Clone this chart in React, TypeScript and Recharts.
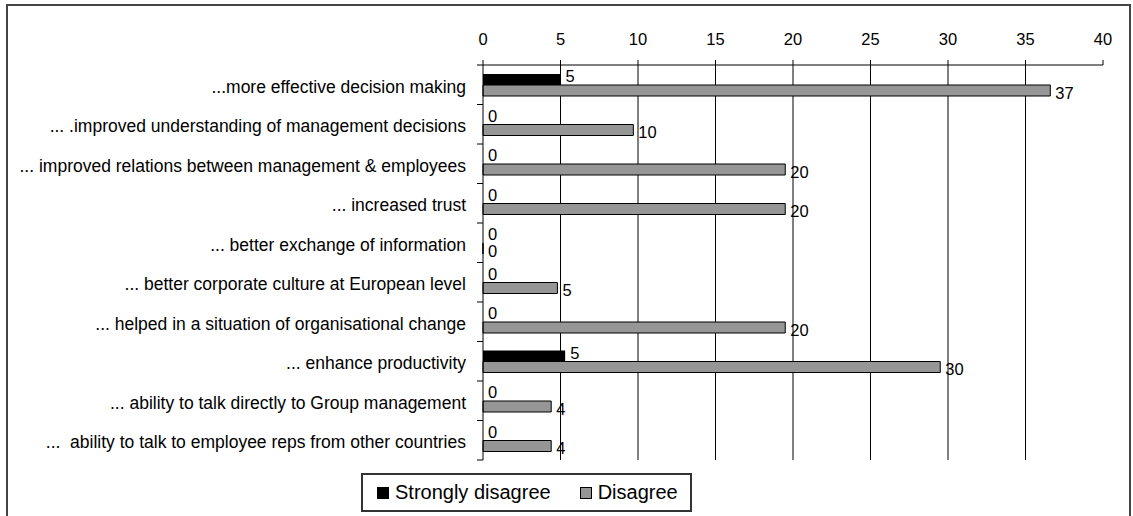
import React from 'react';
import { BarChart, Bar, XAxis, YAxis, CartesianGrid, LabelList, Legend } from 'recharts';

const categories = [
  '...more effective decision making',
  '... .improved understanding of management decisions',
  '... improved relations between management & employees',
  '... increased trust',
  '... better exchange of information',
  '... better corporate culture at European level',
  '... helped in a situation of organisational change',
  '... enhance productivity',
  '... ability to talk directly to Group management',
  '...  ability to talk to employee reps from other countries',
];

const stronglyDisagree = [5, 0, 0, 0, 0, 0, 0, 5.3, 0, 0];
const disagree = [36.6, 9.7, 19.5, 19.5, 0, 4.8, 19.5, 29.5, 4.4, 4.4];

const xTicks = [0, 5, 10, 15, 20, 25, 30, 35, 40];
const gridValues = [5, 10, 15, 20, 25, 30, 35];
const seriesNames = ['Strongly disagree', 'Disagree'];
const seriesColors = ['#000000', '#969696'];

const data = categories.map((name, i) => ({
  name,
  strongly: stronglyDisagree[i],
  disagree: disagree[i],
}));

const CHART_W = 1133;
const CHART_H = 516;
const MARGIN = { top: 25, right: 30, bottom: 56, left: 0 };
const X_AXIS_H = 40;
const Y_AXIS_W = 483;
const Y_TICK_SIZE = 6;
const Y_TICK_MARGIN = 11;
const PLOT_H = CHART_H - MARGIN.top - X_AXIS_H - MARGIN.bottom;
const BAND = PLOT_H / categories.length;
const FONT = "'Liberation Sans', Arial, sans-serif";
const Y_FONT = 17.5;

const YTick = (props: any) => {
  const { x, y, payload, index } = props;
  const axisX = x + Y_TICK_MARGIN + Y_TICK_SIZE;
  const half = BAND / 2;
  return (
    <g>
      <line x1={axisX - Y_TICK_SIZE} x2={axisX} y1={y - half} y2={y - half} stroke="#000" strokeWidth={1} />
      {index === categories.length - 1 && (
        <line x1={axisX - Y_TICK_SIZE} x2={axisX} y1={y + half} y2={y + half} stroke="#000" strokeWidth={1} />
      )}
      <text
        x={x}
        y={y}
        dy={Y_FONT * 0.36 + 1.5}
        textAnchor="end"
        fontSize={Y_FONT}
        fill="#000"
        style={{ whiteSpace: 'pre', fontFamily: FONT }}
      >
        {payload.value}
      </text>
    </g>
  );
};

const fmt = (v: any) => String(Math.round(Number(v)));

const LegendBox = (props: any) => {
  const payload = props.payload || [];
  const items = seriesNames.map((name, i) => {
    const found = payload.find((p: any) => p.value === name);
    return { value: name, color: found ? found.color : seriesColors[i] };
  });
  return (
    <div
      style={{
        display: 'flex',
        alignItems: 'center',
        border: '2px solid #333',
        height: 35,
        padding: '0 12px 0 14px',
        background: '#fff',
        fontFamily: FONT,
        fontSize: 20,
        color: '#000',
        whiteSpace: 'nowrap',
      }}
    >
      {items.map((it: any, i: number) => (
        <div key={i} style={{ display: 'flex', alignItems: 'center', marginLeft: i === 0 ? 0 : 29 }}>
          <span
            style={{
              display: 'inline-block',
              width: i === 0 ? 12 : 10,
              height: i === 0 ? 12 : 10,
              background: it.color,
              border: i === 0 ? 'none' : '1px solid #000',
              marginRight: 6,
            }}
          />
          <span>{it.value}</span>
        </div>
      ))}
    </div>
  );
};

export default function App() {
  return (
    <div
      style={{
        position: 'fixed',
        left: 0,
        top: 0,
        width: CHART_W,
        height: CHART_H,
        overflow: 'hidden',
        background: '#fff',
        fontFamily: FONT,
      }}
    >
      <div
        style={{
          position: 'absolute',
          left: 6,
          top: 4,
          width: 1121,
          height: 540,
          border: '2px solid #444',
        }}
      />
      <div style={{ position: 'absolute', left: 0, top: 0 }}>
        <BarChart
          width={CHART_W}
          height={CHART_H}
          data={data}
          layout="vertical"
          margin={MARGIN}
          barGap={0}
        >
          <CartesianGrid
            xAxisId="top"
            yAxisId="left"
            horizontal={false}
            vertical={true}
            verticalValues={gridValues}
            stroke="#000"
            strokeWidth={1}
          />
          <XAxis
            xAxisId="top"
            type="number"
            orientation="top"
            domain={[0, 40]}
            ticks={xTicks}
            interval={0}
            height={X_AXIS_H}
            tickSize={5}
            tickMargin={15}
            axisLine={{ stroke: '#000', strokeWidth: 1 }}
            tickLine={{ stroke: '#000', strokeWidth: 1 }}
            tick={{ fontSize: 16.5, fill: '#000', fontFamily: FONT }}
          />
          <XAxis
            xAxisId="bottom"
            type="number"
            orientation="bottom"
            domain={[0, 40]}
            height={0}
            tick={false}
            tickLine={false}
            axisLine={{ stroke: '#a0a0a0', strokeWidth: 2 }}
          />
          <YAxis
            yAxisId="left"
            type="category"
            dataKey="name"
            width={Y_AXIS_W}
            interval={0}
            tickSize={Y_TICK_SIZE}
            tickMargin={Y_TICK_MARGIN}
            tickLine={false}
            axisLine={{ stroke: '#000', strokeWidth: 1 }}
            tick={<YTick />}
          />
          <YAxis
            yAxisId="right"
            type="category"
            dataKey="name"
            orientation="right"
            width={0}
            tick={false}
            tickLine={false}
            axisLine={{ stroke: '#a0a0a0', strokeWidth: 2 }}
          />
          <Legend
            layout="horizontal"
            verticalAlign="middle"
            align="center"
            itemSorter={null as any}
            content={<LegendBox />}
            wrapperStyle={{ left: 361, top: 473, width: 'auto', height: 'auto' }}
          />
          <Bar
            xAxisId="top"
            yAxisId="left"
            dataKey="strongly"
            name={seriesNames[0]}
            fill={seriesColors[0]}
            barSize={11}
            minPointSize={0.01}
            isAnimationActive={false}
          >
            <LabelList
              dataKey="strongly"
              position="right"
              offset={5}
              dy={-3}
              formatter={fmt}
              fill="#000"
              fontSize={16.5}
              fontFamily={FONT}
            />
          </Bar>
          <Bar
            xAxisId="top"
            yAxisId="left"
            dataKey="disagree"
            name={seriesNames[1]}
            fill={seriesColors[1]}
            stroke="#000"
            strokeWidth={1}
            barSize={11}
            minPointSize={0.01}
            isAnimationActive={false}
          >
            <LabelList
              dataKey="disagree"
              position="right"
              offset={5}
              dy={2.5}
              formatter={fmt}
              fill="#000"
              fontSize={16.5}
              fontFamily={FONT}
            />
          </Bar>
        </BarChart>
      </div>
    </div>
  );
}
